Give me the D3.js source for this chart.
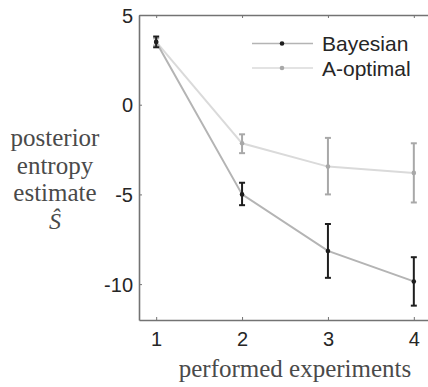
<!DOCTYPE html>
<html>
<head>
<meta charset="utf-8">
<script src="https://cdn.jsdelivr.net/npm/d3@7"></script>
<style>
  body { margin: 0; background: #fff; }
  svg { display: block; }
</style>
</head>
<body>
<script>
'use strict';

// chart values
const experiments = [1, 2, 3, 4];
const bayesMean = [3.5, -5.0, -8.15, -9.85];
const bayesLow  = [3.2, -5.6, -9.65, -11.2];
const bayesHigh = [3.8, -4.35, -6.65, -8.5];
const aoptMean = [3.5, -2.15, -3.45, -3.8];
const aoptLow  = [3.3, -2.7, -5.0, -5.45];
const aoptHigh = [3.7, -1.65, -1.85, -2.15];
const yTicks = [5, 0, -5, -10];
const seriesNames = ['Bayesian', 'A-optimal'];

(function() {

  const width = 428, height = 387;
  const plotLeft = 139, plotTop = 15, plotBottom = 320, plotRight = 431;

  let svg = d3.select('body').append('svg')
    .attr('width', width)
    .attr('height', height);

  let x = d3.scaleLinear().domain([0.8, 4.2]).range([plotLeft, plotRight]);
  let y = d3.scaleLinear().domain([-12, 5]).range([plotBottom, plotTop]);

  // build rows for each series
  function rows(mean, low, high) {
    return experiments.map((e, i) => ({ x: e, m: mean[i], lo: low[i], hi: high[i] }));
  }
  let series = [
    { name: seriesNames[0], data: rows(bayesMean, bayesLow, bayesHigh), line: '#b4b4b4', mark: '#1e1e1e' },
    { name: seriesNames[1], data: rows(aoptMean, aoptLow, aoptHigh), line: '#dadada', mark: '#a8a8a8' }
  ];

  // axes: ticks pointing inward, plain hyphen for negatives
  const axisColor = '#737373';
  const sans = '"Liberation Sans", Arial, sans-serif';
  let xAxis = svg.append('g')
    .attr('transform', `translate(0,${plotBottom})`)
    .call(d3.axisBottom(x).tickValues(experiments).tickSizeInner(-3).tickSizeOuter(0)
      .tickPadding(12).tickFormat(d => String(d)));
  let xTop = svg.append('g')
    .attr('transform', `translate(0,${plotTop})`)
    .call(d3.axisTop(x).tickValues(experiments).tickSizeInner(-3).tickSizeOuter(0).tickFormat(''));
  let yAxis = svg.append('g')
    .attr('transform', `translate(${plotLeft},0)`)
    .call(d3.axisLeft(y).tickValues(yTicks).tickSizeInner(-3).tickSizeOuter(0)
      .tickPadding(6).tickFormat(d => String(d)));

  [xAxis, xTop, yAxis].forEach(g => {
    g.select('.domain').attr('stroke', axisColor).attr('stroke-width', 1.6);
    g.selectAll('.tick line').attr('stroke', axisColor).attr('stroke-width', 1);
    g.selectAll('.tick text')
      .attr('fill', '#262626')
      .style('font-family', sans)
      .style('font-size', '20px');
  });
  yAxis.selectAll('.tick text').attr('dy', '0.36em');

  // lines, error bars, points (A-optimal drawn first)
  let line = d3.line().x(d => x(d.x)).y(d => y(d.m));
  series.slice().reverse().forEach(s => {
    let g = svg.append('g');
    g.append('path')
      .datum(s.data)
      .attr('d', line)
      .attr('fill', 'none')
      .attr('stroke', s.line)
      .attr('stroke-width', 2);
    let eb = g.selectAll('.eb').data(s.data).enter().append('g');
    eb.append('line')
      .attr('x1', d => x(d.x)).attr('x2', d => x(d.x))
      .attr('y1', d => y(d.lo)).attr('y2', d => y(d.hi));
    eb.append('line')
      .attr('x1', d => x(d.x) - 3).attr('x2', d => x(d.x) + 3)
      .attr('y1', d => y(d.lo)).attr('y2', d => y(d.lo));
    eb.append('line')
      .attr('x1', d => x(d.x) - 3).attr('x2', d => x(d.x) + 3)
      .attr('y1', d => y(d.hi)).attr('y2', d => y(d.hi));
    eb.selectAll('line').attr('stroke', s.mark).attr('stroke-width', 2);
    g.selectAll('circle').data(s.data).enter().append('circle')
      .attr('cx', d => x(d.x))
      .attr('cy', d => y(d.m))
      .attr('r', 2.3)
      .attr('fill', s.mark);
  });

  // legend
  let legend = svg.append('g');
  series.forEach((s, i) => {
    let ly = 43.5 + i * 24.5;
    legend.append('line')
      .attr('x1', 252).attr('x2', 313)
      .attr('y1', ly).attr('y2', ly)
      .attr('stroke', s.line).attr('stroke-width', 1.3);
    legend.append('circle')
      .attr('cx', 282).attr('cy', ly).attr('r', 2.3)
      .attr('fill', s.mark);
    legend.append('text')
      .attr('x', 322).attr('y', ly)
      .attr('dy', '0.36em')
      .style('font-family', sans)
      .style('font-size', '21px')
      .attr('fill', '#262626')
      .text(s.name);
  });

  // axis titles
  const serif = '"Liberation Serif", "Times New Roman", serif';
  const serifColor = '#4a4a4a';
  let yLabel = ['posterior', 'entropy', 'estimate'];
  yLabel.forEach((t, i) => {
    svg.append('text')
      .attr('x', 55).attr('y', 146 + i * 27.5)
      .attr('text-anchor', 'middle')
      .style('font-family', serif)
      .style('font-size', '25px')
      .attr('fill', serifColor)
      .text(t);
  });
  svg.append('text')
    .attr('x', 55).attr('y', 229)
    .attr('text-anchor', 'middle')
    .style('font-family', serif)
    .style('font-style', 'italic')
    .style('font-size', '24px')
    .attr('fill', serifColor)
    .text('\u015C');

  svg.append('text')
    .attr('x', 295).attr('y', 377)
    .attr('text-anchor', 'middle')
    .style('font-family', serif)
    .style('font-size', '25px')
    .attr('fill', serifColor)
    .text('performed experiments');

})();
</script>
</body>
</html>
